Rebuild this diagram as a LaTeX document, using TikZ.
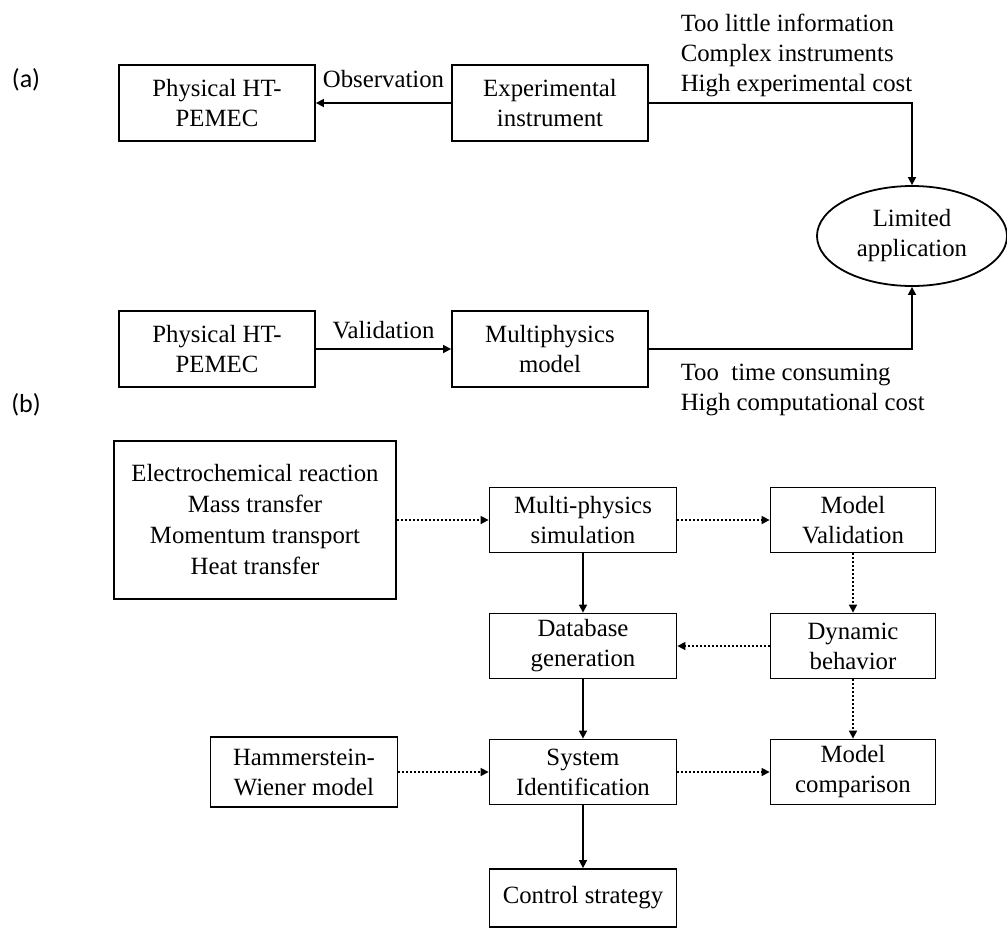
\documentclass[tikz,border=0pt]{standalone}
\usepackage{fontspec}
\setmainfont{Liberation Serif}
\newfontfamily\labelfont{Carlito}
\usetikzlibrary{positioning,shapes.geometric,arrows.meta}

\begin{document}
\begin{tikzpicture}[-{Triangle[length=4pt,width=4pt]},node distance=63pt,on grid,line width=0.8pt,
  font=\fontsize{12.4pt}{15pt}\selectfont,
  box/.style={draw,line width=0.9pt,rectangle,align=center,inner sep=0pt,minimum width=93.5pt,minimum height=32.5pt},
  bigbox/.style={box,minimum width=98pt,minimum height=38pt},
  smallbox/.style={box,minimum width=82.5pt},
  note/.style={align=left,anchor=west,inner sep=0pt},
  panel/.style={font=\labelfont\fontsize{13pt}{15pt}\selectfont,inner sep=0pt},
  dots/.style={dash pattern=on 1pt off 1pt}]
   \useasboundingbox (0,0) rectangle (503.5pt,-464pt);
   \node[panel] (pa) at (13pt,-40pt) {(a)};
   \node[panel] (pb) at (13pt,-202.5pt) {(b)};

   \node[bigbox] (phys1) at (108.5pt,-51.5pt) {Physical HT-\\PEMEC};
   \node[bigbox] (exper) [right=166.5pt of phys1] {Experimental\\instrument};
   \node[bigbox] (phys2) [below=123pt of phys1] {Physical HT-\\PEMEC};
   \node[bigbox] (multi) [right=166.5pt of phys2] {Multiphysics\\model};
   \node[draw,ellipse,line width=0.9pt,minimum width=95pt,minimum height=50pt,align=center,inner sep=0pt] (limit) [below right=66.5pt and 181pt of exper] {Limited\\application};
   \node[note] (cons1) at (340pt,-27.5pt) {Too little information\\Complex instruments\\High experimental cost};
   \node[note] (cons2) at (340pt,-195pt) {Too\ \ time consuming\\High computational cost};
    \path
    (exper) edge node[above=4pt] {Observation} (phys1)
    (phys2) edge node[above=1.5pt] {Validation} (multi);
   \draw (exper) -| (limit);
   \draw (multi) -| (limit);

   \node[box] (msim) at (291.5pt,-260pt) {Multi-physics\\simulation};
   \node[smallbox] (mval) [right=135pt of msim] {Model\\Validation};
   \node[box] (dbase) [below=of msim] {Database\\generation};
   \node[smallbox] (dyn) [below=of mval] {Dynamic\\behavior};
   \node[box] (sysid) [below=of dbase] {System\\Identification};
   \node[smallbox] (mcomp) [below=of dyn] {Model\\comparison};
   \node[box,minimum height=35pt] (hamm) [left=139.5pt of sysid] {Hammerstein-\\Wiener model};
   \node[box,minimum height=29pt] (ctrl) [below=of sysid] {Control strategy};
   \node[box,minimum width=141pt,minimum height=79pt,font=\fontsize{12.4pt}{15.5pt}\selectfont] (electro) [left=164pt of msim] {Electrochemical reaction\\Mass transfer\\Momentum transport\\Heat transfer};
    \path
    (electro) edge[dots] (msim)
    (msim) edge[dots] (mval)
	edge (dbase)
    (mval) edge[dots] (dyn)
    (dyn) edge[dots] (dbase)
	edge[dots] (mcomp)
    (dbase) edge (sysid)
    (hamm) edge[dots] (sysid)
    (sysid) edge[dots] (mcomp)
	edge (ctrl);
\end{tikzpicture}
\end{document}
